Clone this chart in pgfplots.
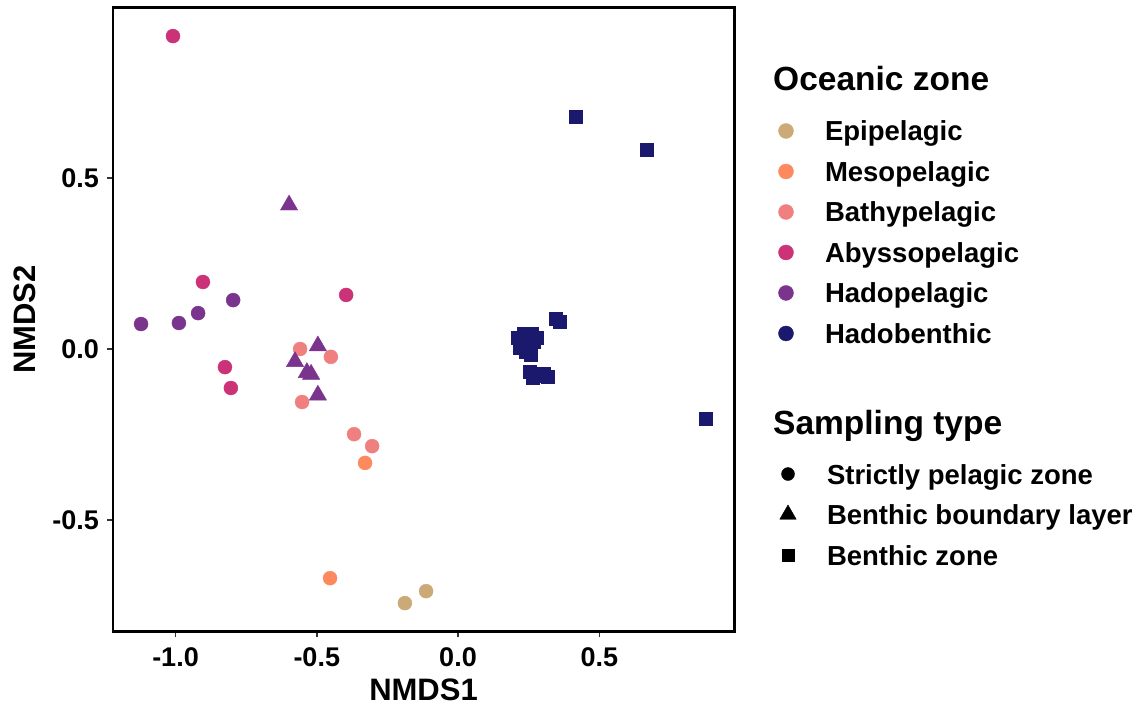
\documentclass[border=0pt]{standalone}
\usepackage{fontspec}
\setmainfont{Liberation Sans}
\usepackage{pgfplots}
\pgfplotsset{compat=1.18}
\definecolor{epi}{RGB}{204,170,120}
\definecolor{meso}{RGB}{253,137,95}
\definecolor{bathy}{RGB}{240,128,128}
\definecolor{abysso}{RGB}{204,50,120}
\definecolor{hadop}{RGB}{122,52,142}
\definecolor{hadob}{RGB}{27,25,110}
\pgfplotsset{
  circ/.style={only marks, mark=*, mark size=7pt, forget plot},
  tri/.style={only marks, mark=triangle*, mark size=10pt, forget plot},
  sq/.style={only marks, mark=square*, mark size=6.5pt, forget plot},
  mylegend/.style={
    legend cell align=left,
    legend style={draw=none, fill=none, inner xsep=0pt, inner ysep=0pt, outer sep=0pt,
      row sep=20.5pt, column sep=0pt,
      font=\bfseries\fontsize{27.5}{27.5}\selectfont,
      nodes={inner sep=0pt, text height=20pt, text depth=0pt}},
    legend image code/.code={\draw[##1] plot coordinates {(0pt,0pt)}; \path[draw=none, fill=none] (-10pt,-10pt) rectangle (39pt,10pt);},
  },
}
\begin{document}
\begin{tikzpicture}
\useasboundingbox (-112.8pt,-74.5pt) rectangle (1028.2pt,631.5pt);
\begin{axis}[
  at={(0pt,0pt)}, anchor=south west,
  scale only axis, width=621.5pt, height=623.8pt,
  xmin=-1.222, xmax=0.978, ymin=-0.826, ymax=0.998,
  axis line style={line width=2.5pt, black},
  tick align=outside, tick pos=left,
  major tick length=6pt,
  tick style={line width=1.5pt, black!80},
  xtick={-1,-0.5,0,0.5}, xticklabels={-1.0,-0.5,0.0,0.5},
  ytick={-0.5,0,0.5}, yticklabels={-0.5,0.0,0.5},
  ticklabel style={font=\bfseries\fontsize{27}{27}\selectfont, black},
  xticklabel style={anchor=north, inner sep=0pt, yshift=-9.5pt},
  yticklabel style={anchor=east, inner sep=0pt, xshift=-7.8pt},
  xlabel={NMDS1}, ylabel={NMDS2},
  label style={font=\bfseries\fontsize{31}{31}\selectfont},
  xlabel style={at={(axis description cs:0.5,-0.0938)}, anchor=center, inner sep=0pt},
  ylabel style={at={(axis description cs:-0.1413,0.5)}, anchor=center, inner sep=0pt, rotate=0},
  mylegend,
  legend style={at={(1.0671,0.8184)}, anchor=north west},
]
\addlegendimage{only marks, mark=*, mark size=7.5pt, color=epi}
\addlegendimage{only marks, mark=*, mark size=7.5pt, color=meso}
\addlegendimage{only marks, mark=*, mark size=7.5pt, color=bathy}
\addlegendimage{only marks, mark=*, mark size=7.5pt, color=abysso}
\addlegendimage{only marks, mark=*, mark size=7.5pt, color=hadop}
\addlegendimage{only marks, mark=*, mark size=7.5pt, color=hadob}
\legend{Epipelagic,Mesopelagic,Bathypelagic,Abyssopelagic,Hadopelagic,Hadobenthic}
% Epipelagic
\addplot[circ, color=epi] coordinates {(-0.188,-0.743) (-0.113,-0.708)};
% Mesopelagic
\addplot[circ, color=meso] coordinates {(-0.453,-0.670) (-0.329,-0.333)};
% Bathypelagic
\addplot[circ, color=bathy] coordinates {(-0.559,0.000) (-0.450,-0.023) (-0.552,-0.155) (-0.368,-0.249) (-0.304,-0.284)};
% Abyssopelagic
\addplot[circ, color=abysso] coordinates {(-1.009,0.915) (-0.903,0.196) (-0.396,0.158) (-0.825,-0.053) (-0.804,-0.114)};
% Hadopelagic
\addplot[circ, color=hadop] coordinates {(-0.796,0.143) (-0.920,0.105) (-0.988,0.076) (-1.122,0.073)};
\addplot[tri, color=hadop] coordinates {(-0.598,0.421) (-0.496,0.009) (-0.577,-0.037) (-0.535,-0.069) (-0.520,-0.074) (-0.496,-0.135)};
% Hadobenthic
\addplot[sq, color=hadob] coordinates {
 (0.418,0.678) (0.669,0.582) (0.878,-0.205) (0.347,0.088) (0.361,0.079)
 (0.212,0.032) (0.234,0.044) (0.262,0.044) (0.280,0.032) (0.219,0.003)
 (0.248,0.012) (0.269,0.020) (0.241,-0.009) (0.258,-0.018)
 (0.255,-0.067) (0.280,-0.079) (0.304,-0.073) (0.319,-0.082) (0.265,-0.085)};
\end{axis}
\begin{axis}[
  at={(0pt,0pt)}, anchor=south west,
  scale only axis, width=621.5pt, height=623.8pt,
  xmin=0, xmax=1, ymin=0, ymax=1, hide axis,
  mylegend,
  legend style={at={(1.0703,0.2685)}, anchor=north west},
]
\addlegendimage{only marks, mark=*, mark size=6.5pt, black}
\addlegendimage{only marks, mark=triangle*, mark size=9.5pt, black}
\addlegendimage{only marks, mark=square*, mark size=6pt, black}
\legend{Strictly pelagic zone,Benthic boundary layer,Benthic zone}
\end{axis}
\node[anchor=base west, inner sep=0pt, font=\bfseries\fontsize{33.5}{33.5}\selectfont] at (660.2pt,540.5pt) {Oceanic zone};
\node[anchor=base west, inner sep=0pt, font=\bfseries\fontsize{33.5}{33.5}\selectfont] at (660.2pt,196.5pt) {Sampling type};
\end{tikzpicture}
\end{document}
